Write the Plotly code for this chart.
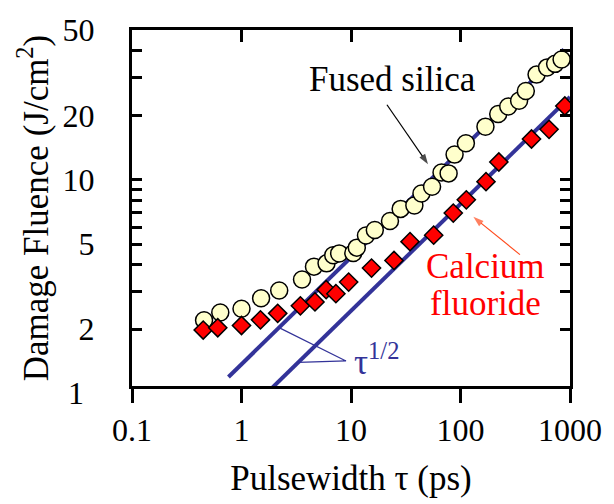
import numpy as np
import plotly.graph_objects as go

# Fused silica damage fluence (J/cm^2) vs pulse width (ps)
silica_tau = [0.455, 0.64, 1.0, 1.51, 2.21, 3.57, 4.59, 5.98, 6.88, 7.8, 10.5,
              11.3, 13.7, 16.5, 22.7, 28.4, 37.9, 44.0, 55.0, 67.1, 77.9, 88.3,
              112, 169, 221, 273, 343, 395, 495, 618, 731, 838]
silica_fluence = [2.20, 2.39, 2.49, 2.79, 3.03, 3.41, 3.92, 4.06, 4.43, 4.52, 4.54,
                  4.81, 5.48, 5.82, 6.41, 7.30, 7.58, 8.61, 9.27, 10.8, 10.7, 13.1,
                  14.8, 17.7, 20.3, 22.0, 23.4, 26.0, 31.0, 33.5, 34.8, 36.5]

# Calcium fluoride damage fluence (J/cm^2) vs pulse width (ps)
caf2_tau = [0.447, 0.607, 1.0, 1.49, 2.14, 3.45, 4.69, 5.93, 7.28, 9.52, 15.4,
            24.7, 34.6, 56.9, 85.9, 113, 171, 224, 445, 644, 897]
caf2_fluence = [1.98, 2.03, 2.08, 2.21, 2.37, 2.57, 2.68, 3.06, 2.93, 3.32, 3.86,
                4.19, 5.13, 5.50, 6.98, 8.05, 9.79, 12.1, 15.5, 17.2, 22.1]

# tau^(1/2) scaling guides: F = A * tau^0.5
guide_upper_A, guide_upper_tau = 1.37, [0.76, 880]
guide_lower_A, guide_lower_tau = 0.77, [1.5, 1000]

x_ticks = [0.1, 1, 10, 100, 1000]
x_ticktext = ["0.1", "1", "10", "100", "1000"]
y_ticks = [2, 5, 10, 20, 50]
y_ticktext = ["2", "5", "10", "20", "50"]
y_minor_ticks = [3, 4, 6, 7, 8, 9, 30, 40]

SERIF = "Liberation Serif"
GUIDE = "#333399"


def sqrt_law(A, taus):
    t = np.array(taus, dtype=float)
    return t, A * np.sqrt(t)


def pointer(tail, head, color):
    """Thin line from tail to head (tau, fluence) with an arrowhead at head."""
    return go.Scatter(x=[tail[0], head[0]], y=[tail[1], head[1]],
                      mode="lines+markers",
                      line=dict(color=color, width=1.2),
                      marker=dict(symbol="arrow", size=[0, 11], color=color,
                                  angleref="previous", line=dict(width=0)),
                      showlegend=False, hoverinfo="skip")


fig = go.Figure()

for A, rng in [(guide_upper_A, guide_upper_tau), (guide_lower_A, guide_lower_tau)]:
    t, f = sqrt_law(A, rng)
    fig.add_trace(go.Scatter(x=t, y=f, mode="lines",
                             line=dict(color=GUIDE, width=4),
                             showlegend=False, hoverinfo="skip"))

# leader lines from the tau^(1/2) label to both guides
t_up, f_up = sqrt_law(guide_upper_A, [2.2])
t_lo, f_lo = sqrt_law(guide_lower_A, [3.3])
fig.add_trace(go.Scatter(x=[t_up[0], 9.0, t_lo[0]], y=[f_up[0], 1.42, f_lo[0]],
                         mode="lines", line=dict(color=GUIDE, width=1.2),
                         showlegend=False, hoverinfo="skip"))

fig.add_trace(go.Scatter(x=silica_tau, y=silica_fluence, mode="markers",
                         name="Fused silica",
                         marker=dict(symbol="circle", size=17, color="#FFFFCC",
                                     line=dict(color="black", width=1.5)),
                         showlegend=False))
fig.add_trace(go.Scatter(x=caf2_tau, y=caf2_fluence, mode="markers",
                         name="Calcium fluoride",
                         marker=dict(symbol="diamond", size=14, color="#FF0000",
                                     line=dict(color="black", width=1.5)),
                         showlegend=False))

# label pointers
fig.add_trace(pointer((21.3, 22.4), (50.5, 11.8), "black"))
fig.add_trace(pointer((349, 4.46), (131, 6.70), "#FF4A1C"))

# empty trace carrying the top (inside) tick axis
fig.add_trace(go.Scatter(x=[], y=[], xaxis="x2", showlegend=False))

fig.update_layout(
    width=614, height=504,
    margin=dict(l=132, r=33, t=15, b=106),
    paper_bgcolor="white", plot_bgcolor="white",
    font=dict(family=SERIF, color="black", size=32),
    xaxis=dict(type="log", range=[-1, 3], tickvals=x_ticks, ticktext=x_ticktext,
               ticks="outside", ticklen=14, tickwidth=3, tickcolor="black",
               showline=True, linewidth=3, linecolor="black", mirror=True,
               showgrid=False, zeroline=False, tickfont=dict(size=32),
               title=dict(text="Pulsewidth τ (ps)", font=dict(size=35), standoff=19)),
    xaxis2=dict(type="log", range=[-1, 3], overlaying="x", side="top",
                tickvals=[1, 10, 100], ticks="inside", ticklen=12, tickwidth=3,
                tickcolor="black", showticklabels=False, showline=False,
                showgrid=False, zeroline=False),
    yaxis=dict(type="log", range=[0.035, 1.70], tickvals=y_ticks, ticktext=y_ticktext,
               ticks="inside", ticklen=10, tickwidth=3, tickcolor="black",
               minor=dict(tickvals=y_minor_ticks, ticks="inside", ticklen=10,
                          tickwidth=3, tickcolor="black", showgrid=False),
               showline=True, linewidth=3, linecolor="black", mirror="ticks",
               showgrid=False, zeroline=False, tickfont=dict(size=32),
               ticklabelstandoff=28, ticklabeloverflow="allow",
               title=dict(text="Damage Fluence (J/cm<sup>2</sup>)", font=dict(size=35),
                          standoff=4)),
    showlegend=False,
)

annotations = [
    # y-axis label for 1 sits just below the frame
    dict(text="1", xref="paper", yref="paper", x=-0.105, y=-0.02,
         xanchor="right", yanchor="middle", showarrow=False,
         font=dict(size=32, family=SERIF)),
    dict(text="Fused silica", xref="paper", yref="paper", x=0.594, y=0.862,
         xanchor="center", yanchor="middle", showarrow=False,
         font=dict(size=35, family=SERIF, color="black")),
    dict(text="Calcium", xref="paper", yref="paper", x=0.807, y=0.336,
         xanchor="center", yanchor="middle", showarrow=False,
         font=dict(size=35, family=SERIF, color="#FF0000")),
    dict(text="fluoride", xref="paper", yref="paper", x=0.807, y=0.232,
         xanchor="center", yanchor="middle", showarrow=False,
         font=dict(size=35, family=SERIF, color="#FF0000")),
    dict(text="τ<sup>1/2</sup>", xref="paper", yref="paper", x=0.502, y=0.075,
         xanchor="left", yanchor="middle", showarrow=False,
         font=dict(size=35, family=SERIF, color=GUIDE)),
]
fig.update_layout(annotations=annotations)

fig.write_html("out.html")
